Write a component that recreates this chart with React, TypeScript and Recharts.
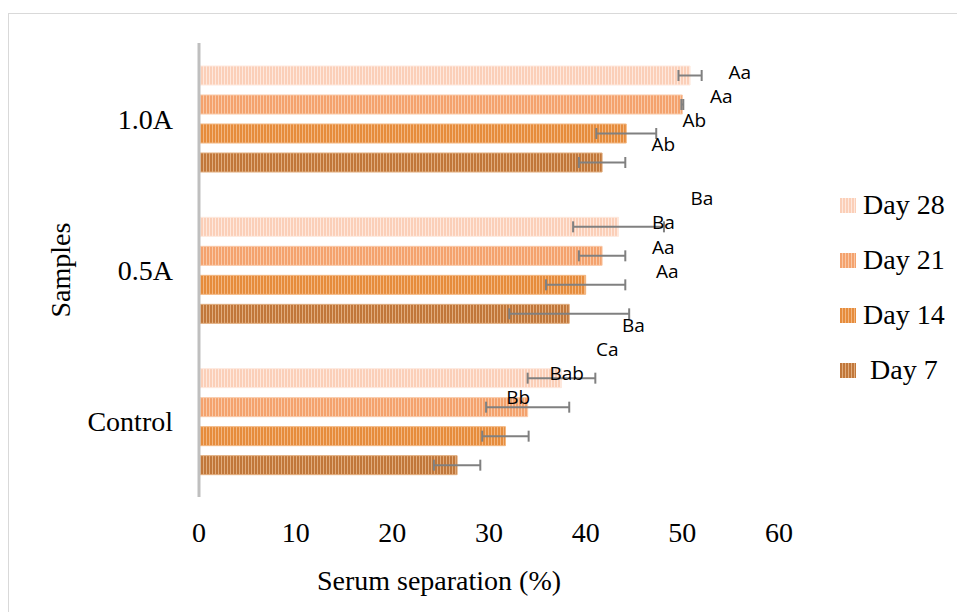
import { BarChart, Bar, XAxis, YAxis, ErrorBar, LabelList } from "recharts";

const samples = ["1.0A", "0.5A", "Control"];

const day28 = [50.8, 43.4, 37.5];
const day21 = [50.0, 41.7, 34.0];
const day14 = [44.2, 40.0, 31.7];
const day7 = [41.7, 38.3, 26.7];

const day28Err = [1.2, 4.7, 3.5];
const day21Err = [0.1, 2.4, 4.3];
const day14Err = [3.1, 4.1, 2.4];
const day7Err = [2.4, 6.2, 2.4];

const day28Letters = ["Aa", "Ba", "Ba"];
const day21Letters = ["Aa", "Ba", "Ca"];
const day14Letters = ["Ab", "Aa", "Bab"];
const day7Letters = ["Ab", "Aa", "Bb"];

const xTicks = [0, 10, 20, 30, 40, 50, 60];

const data = samples.map((sample, i) => ({
  sample,
  d28: day28[i],
  d28Err: day28Err[i],
  d28Lbl: day28Letters[i],
  d21: day21[i],
  d21Err: day21Err[i],
  d21Lbl: day21Letters[i],
  d14: day14[i],
  d14Err: day14Err[i],
  d14Lbl: day14Letters[i],
  d7: day7[i],
  d7Err: day7Err[i],
  d7Lbl: day7Letters[i],
}));

// drawing order top to bottom inside each group
const series = [
  { key: "d28", name: "Day 28", vals: day28, errs: day28Err, base: "#fbcfb8", light: "#fee8dd" },
  { key: "d21", name: "Day 21", vals: day21, errs: day21Err, base: "#f4a26d", light: "#f9c8a6" },
  { key: "d14", name: "Day 14", vals: day14, errs: day14Err, base: "#e68c3c", light: "#f2b680" },
  { key: "d7", name: " Day 7", vals: day7, errs: day7Err, base: "#c1773a", light: "#e0ac7d" },
];

const serif = "'Liberation Serif', 'Times New Roman', serif";
const fs = 28;

const letterLabel = (vals: number[], errs: number[]) => (props: any) => {
  const x = Number(props.x);
  const y = Number(props.y);
  const w = Number(props.width);
  const h = Number(props.height);
  const i = props.index;
  const errEnd = x + w * (1 + errs[i] / vals[i]);
  const cy = y + h / 2;
  return (
    <text
      x={errEnd + 38}
      y={8.5 + cy * 0.836}
      textAnchor="middle"
      dominantBaseline="central"
      fontFamily="'Open Sans', sans-serif"
      fontSize={19}
      fill="#000"
    >
      {props.value}
    </text>
  );
};

const App = () => {
  return (
    <div
      style={{
        position: "absolute",
        left: 0,
        top: 0,
        width: 957,
        height: 612,
        overflow: "hidden",
        background: "#fff",
      }}
    >
      <svg width="0" height="0" style={{ position: "absolute" }}>
        <defs>
          {series.map((s) => (
            <pattern key={s.key} id={`stripe-${s.key}`} width="3" height="3" patternUnits="userSpaceOnUse">
              <rect width="3" height="3" fill={s.base} />
              <rect x="2" width="1" height="3" fill={s.light} />
            </pattern>
          ))}
        </defs>
      </svg>

      {/* chart frame */}
      <div
        style={{
          position: "absolute",
          left: 8,
          top: 13,
          width: 980,
          height: 640,
          border: "1.5px solid #d9d9d9",
        }}
      />

      <BarChart
        width={957}
        height={612}
        data={data}
        layout="vertical"
        margin={{ top: 43, right: 178, bottom: 0, left: 139 }}
        barSize={19}
        barGap={10}
        style={{ position: "absolute", left: 0, top: 0 }}
      >
        <XAxis
          type="number"
          domain={[0, 60]}
          ticks={xTicks}
          axisLine={false}
          tickLine={false}
          tickSize={0}
          tickMargin={25}
          height={115}
          tick={{ fontFamily: serif, fontSize: fs, fill: "#000" }}
          label={{
            content: () => (
              <text
                x={439}
                y={580}
                textAnchor="middle"
                dominantBaseline="central"
                fontFamily={serif}
                fontSize={fs}
                fill="#000"
              >
                Serum separation (%)
              </text>
            ),
          }}
        />
        <YAxis
          type="category"
          dataKey="sample"
          width={60}
          axisLine={{ stroke: "#bfbfbf", strokeWidth: 3 }}
          tickLine={false}
          tickSize={0}
          tickMargin={26}
          tick={{ fontFamily: serif, fontSize: fs, fill: "#000" }}
          label={{
            content: () => (
              <text
                x={60}
                y={270}
                textAnchor="middle"
                dominantBaseline="central"
                transform="rotate(-90 60 270)"
                fontFamily={serif}
                fontSize={fs}
                fill="#000"
              >
                Samples
              </text>
            ),
          }}
        />
        {series.map((s) => (
          <Bar
            key={s.key}
            dataKey={s.key}
            name={s.name}
            fill={`url(#stripe-${s.key})`}
            stroke={s.light}
            strokeWidth={1}
            isAnimationActive={false}
          >
            <ErrorBar
              dataKey={`${s.key}Err`}
              direction="x"
              width={5.5}
              stroke="#808080"
              strokeWidth={2}
            />
            <LabelList dataKey={`${s.key}Lbl`} content={letterLabel(s.vals, s.errs)} />
          </Bar>
        ))}
      </BarChart>

      {/* legend */}
      {series.map((s, i) => (
        <div
          key={s.key}
          style={{
            position: "absolute",
            left: 840,
            top: 205 + i * 55 - 16,
            height: 32,
            display: "flex",
            alignItems: "center",
            fontFamily: serif,
            fontSize: fs,
            color: "#000",
            whiteSpace: "pre",
          }}
        >
          <svg width={16} height={15} style={{ marginRight: 7 }}>
            <rect width={16} height={15} fill={`url(#stripe-${s.key})`} />
          </svg>
          <span>{s.name}</span>
        </div>
      ))}
    </div>
  );
};

export default App;
